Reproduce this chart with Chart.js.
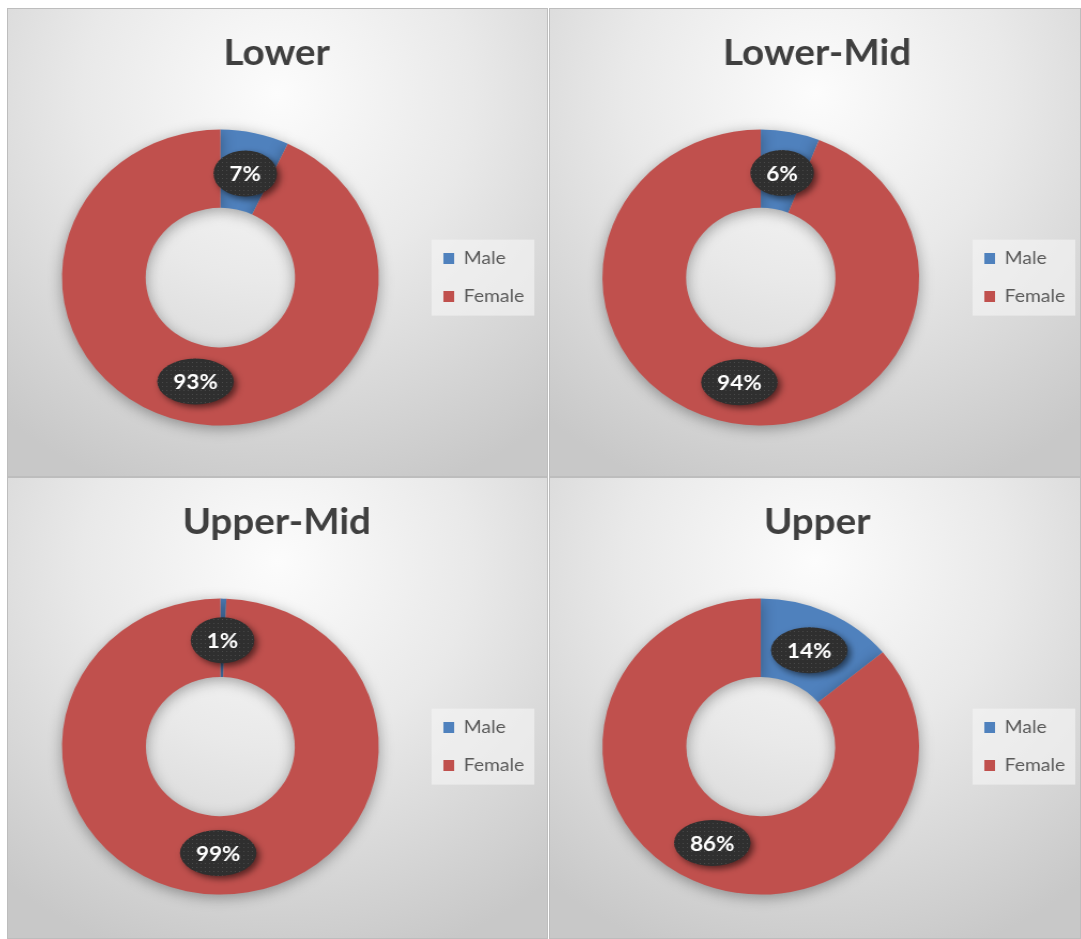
<!DOCTYPE html>
<html>
<head>
<meta charset="utf-8">
<script src="https://cdn.jsdelivr.net/npm/chart.js@4/dist/chart.umd.min.js"></script>
<style>
  body { margin: 0; background: #ffffff; width: 1081px; height: 939px; overflow: hidden; position: relative; }
  .panel {
    position: absolute;
    box-sizing: border-box;
    border: 1px solid #bdbdbd;
    overflow: hidden;
    background: radial-gradient(ellipse 80% 90% at 50% 18%, #fcfcfc 0%, #e9e9e9 45%, #c8c8c8 100%);
  }
  /* the reference is a little stretched sideways, so the canvas is too */
  .panel canvas { position: absolute; top: 0; left: -14px; transform: scaleX(1.07); transform-origin: 0 0; }
</style>
</head>
<body>
<div class="panel" style="left:7px;top:8px;width:541px;height:469px"><canvas id="c1" width="526" height="469"></canvas></div>
<div class="panel" style="left:549px;top:8px;width:532px;height:469px"><canvas id="c2" width="517" height="469"></canvas></div>
<div class="panel" style="left:7px;top:477px;width:541px;height:462px"><canvas id="c3" width="526" height="462"></canvas></div>
<div class="panel" style="left:549px;top:477px;width:532px;height:462px"><canvas id="c4" width="517" height="462"></canvas></div>
<script>
// Data (share of each group, %)
const groups = ['Lower', 'Lower-Mid', 'Upper-Mid', 'Upper'];
const genders = ['Male', 'Female'];
const maleShare = [7, 6, 0.6, 14];
const femaleShare = [93, 94, 99.4, 86];

const BLUE = '#4f81bd';
const RED = '#c0504d';

// small dotted texture for the label bubbles
function makeDots() {
  const c = document.createElement('canvas');
  c.width = 4; c.height = 4;
  const g = c.getContext('2d');
  g.fillStyle = '#2f2f2f';
  g.fillRect(0, 0, 4, 4);
  g.fillStyle = '#4a4a4a';
  g.fillRect(1, 1, 1, 1);
  return c;
}
const dots = makeDots();

// legend background box
const legendBox = {
  id: 'legendBox',
  beforeDraw(chart) {
    const lg = chart.legend;
    if (!lg || !lg.legendHitBoxes || !lg.legendHitBoxes.length) return;
    const hb = lg.legendHitBoxes;
    const ctx = chart.ctx;
    const x0 = hb[0].left - 11;
    const y0 = hb[0].top - 10;
    const y1 = hb[hb.length - 1].top + hb[hb.length - 1].height + 10;
    ctx.save();
    ctx.fillStyle = 'rgba(245,245,245,0.65)';
    ctx.fillRect(x0, y0, 96, y1 - y0);
    ctx.restore();
  }
};

// soft shadow under the ring
const ringShadow = {
  id: 'ringShadow',
  beforeDatasetsDraw(chart) {
    const ctx = chart.ctx;
    ctx.save();
    ctx.shadowColor = 'rgba(0,0,0,0.35)';
    ctx.shadowBlur = 14;
    ctx.shadowOffsetY = 3;
  },
  afterDatasetsDraw(chart) {
    chart.ctx.restore();
  }
};

// percentage bubbles
const bubbles = {
  id: 'bubbles',
  afterDatasetsDraw(chart) {
    const ctx = chart.ctx;
    const meta = chart.getDatasetMeta(0);
    const values = chart.data.datasets[0].data;
    const pat = ctx.createPattern(dots, 'repeat');
    meta.data.forEach((arc, i) => {
      const p = arc.getProps(['x', 'y', 'startAngle', 'endAngle', 'innerRadius', 'outerRadius'], true);
      const mid = (p.startAngle + p.endAngle) / 2;
      const r = p.innerRadius + 0.47 * (p.outerRadius - p.innerRadius);
      const cx = p.x + Math.cos(mid) * r;
      const cy = p.y + Math.sin(mid) * r;
      const text = Math.round(values[i]) + '%';
      ctx.save();
      ctx.font = 'bold 21px Lato';
      const tw = ctx.measureText(text).width;
      const rx = tw / 2 + 15;
      const ry = 23;
      ctx.shadowColor = 'rgba(0,0,0,0.55)';
      ctx.shadowBlur = 6;
      ctx.shadowOffsetX = 3;
      ctx.shadowOffsetY = 3;
      ctx.beginPath();
      ctx.ellipse(cx, cy, rx, ry, 0, 0, Math.PI * 2);
      ctx.fillStyle = pat;
      ctx.fill();
      ctx.shadowColor = 'transparent';
      ctx.fillStyle = '#ffffff';
      ctx.textAlign = 'center';
      ctx.textBaseline = 'middle';
      ctx.fillText(text, cx, cy + 1);
      ctx.restore();
    });
  }
};

function makeDonut(canvasId, idx, padLeft, padRight, titleBottom, padBottom) {
  return new Chart(document.getElementById(canvasId), {
    type: 'doughnut',
    data: {
      labels: genders,
      datasets: [{
        data: [maleShare[idx], femaleShare[idx]],
        backgroundColor: [BLUE, RED],
        borderWidth: 0,
        hoverOffset: 0
      }]
    },
    options: {
      responsive: false,
      animation: false,
      radius: 148,
      cutout: 74,
      layout: { padding: { left: padLeft, right: padRight, top: 0, bottom: padBottom } },
      plugins: {
        tooltip: { enabled: false },
        title: {
          display: true,
          text: groups[idx],
          color: '#3f3f3f',
          font: { family: 'Lato', size: 36, weight: 'bold' },
          padding: { top: 23, bottom: titleBottom }
        },
        legend: {
          position: 'right',
          fullSize: false,
          labels: {
            boxWidth: 10,
            boxHeight: 11,
            padding: 20,
            color: '#595959',
            font: { family: 'Lato', size: 18 }
          }
        }
      }
    },
    plugins: [legendBox, ringShadow, bubbles]
  });
}

makeDonut('c1', 0, 23.1, 20.6, 45.5, 43.5);
makeDonut('c2', 1, 21.1, 12.6, 45.5, 43.5);
makeDonut('c3', 2, 23.1, 20.6, 45, 36);
makeDonut('c4', 3, 21.1, 12.6, 45, 36);
</script>
</body>
</html>
